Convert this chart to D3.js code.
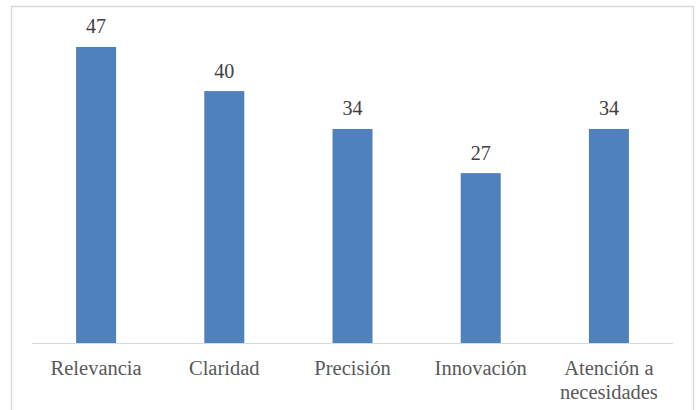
<!DOCTYPE html>
<html><head><meta charset="utf-8">
<script src="https://cdn.jsdelivr.net/npm/d3@7"></script>
</head><body style="margin:0">
<svg id="c" width="699" height="410" font-family="Liberation Serif"></svg>
<script>
const categories = ["Relevancia","Claridad","Precisión","Innovación","Atención a necesidades"];
const categoryLines = [["Relevancia"],["Claridad"],["Precisión"],["Innovación"],["Atención a","necesidades"]];
const values = [47,40,34,27,34];

const svg = d3.select("#c");
svg.append("rect").attr("x",11.5).attr("y",6.5).attr("width",682).attr("height",410)
  .attr("fill","#fff").attr("stroke","#d9d9d9").attr("stroke-width",1.5);

const x = d3.scaleBand().domain(categories).range([32,673]).paddingInner(0.688).paddingOuter(0.344);
const y = d3.scaleLinear().domain([0,50]).range([343.5,28]);

svg.selectAll("rect.bar").data(values).join("rect").attr("class","bar")
  .attr("x",(d,i)=>x(categories[i])).attr("width",x.bandwidth())
  .attr("y",d=>y(d)).attr("height",d=>y(0)-y(d)).attr("fill","#4f81bd");

svg.append("line").attr("x1",32).attr("x2",673).attr("y1",y(0)).attr("y2",y(0))
  .attr("stroke","#d9d9d9").attr("stroke-width",1);

svg.selectAll("text.val").data(values).join("text").attr("class","val")
  .attr("x",(d,i)=>x(categories[i])+x.bandwidth()/2).attr("y",d=>y(d)-13.5)
  .attr("text-anchor","middle").attr("font-family","Liberation Serif").attr("font-size",20)
  .attr("fill","#404040").text(d=>d);

categoryLines.forEach((lines,i)=>{
  const t = svg.append("text").attr("text-anchor","middle").attr("font-family","Liberation Serif")
    .attr("font-size",20.5).attr("fill","#595959");
  lines.forEach((l,j)=>t.append("tspan").attr("x",x(categories[i])+x.bandwidth()/2)
    .attr("y",375+j*24).text(l));
});
</script>
</body></html>
